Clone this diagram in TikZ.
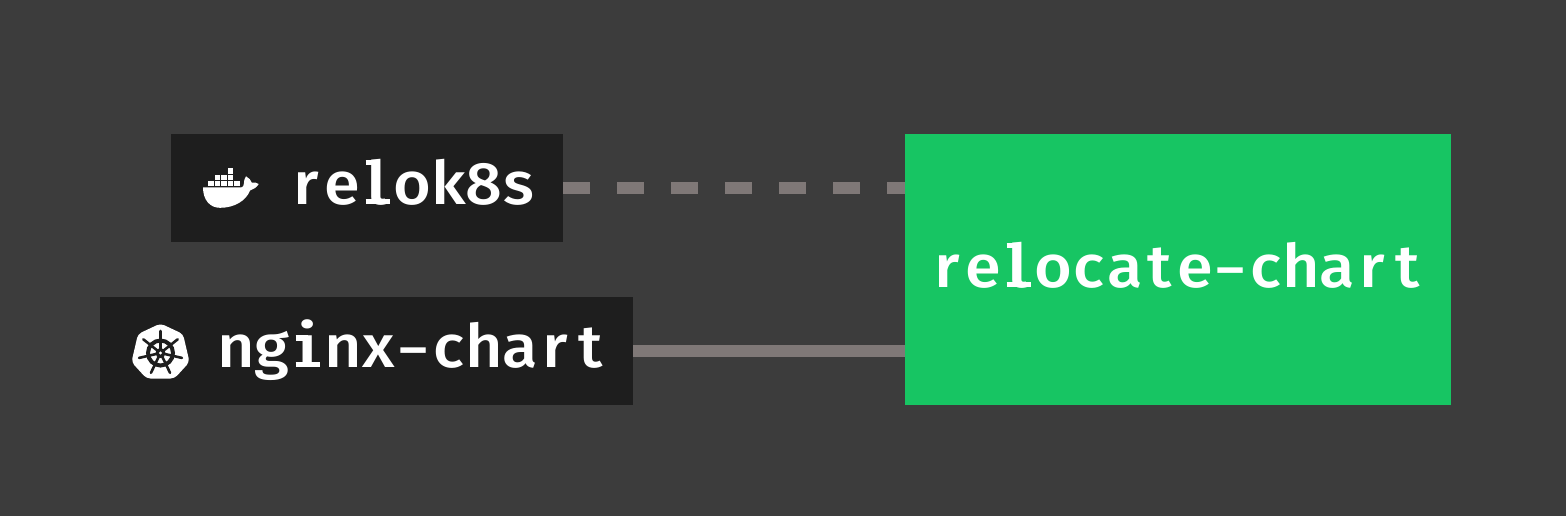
\documentclass[tikz,border=0pt]{standalone}
\usepackage{fontspec}
\newfontfamily\labf{Fira Sans Medium}
\newlength{\cw}\setlength{\cw}{17.7pt}
\newcommand{\mc}[1]{\makebox[\cw][c]{\scalebox{1.08}[1]{#1}}}
\newcommand{\ml}{\makebox[\cw][c]{\makebox[0pt][c]{\scalebox{1.2}[1]{l}}\makebox[0pt][c]{\rule{12pt}{2.7pt}}\makebox[0pt][r]{\raisebox{19.6pt}{\rule{6pt}{2.6pt}}}}}
\newcommand{\mi}{\makebox[\cw][c]{\makebox[0pt][c]{\scalebox{1.2}[1]{i}}\makebox[0pt][c]{\rule{12pt}{2.7pt}}\makebox[0pt][r]{\raisebox{13.2pt}{\rule{6pt}{2.6pt}}}}}
\newcommand{\mh}{\makebox[\cw][c]{\scalebox{1.4}[0.9]{-}}}
\begin{document}
\begin{tikzpicture}[x=0.5pt,y=-0.5pt,
  boxnode/.style={fill=boxdark,inner sep=0,outer sep=0,anchor=north west},
  greennode/.style={fill=chartgreen,inner sep=0,outer sep=0,anchor=north west},
  labeltext/.style={text=white,inner sep=0,outer sep=0,anchor=base west,font=\labf\fontsize{30pt}{31pt}\selectfont},
  wire/.style={draw=wirecol,line width=5.7pt},
  ]
\definecolor{bgc}{HTML}{3C3C3C}
\definecolor{boxdark}{HTML}{1E1E1E}
\definecolor{chartgreen}{HTML}{17C563}
\definecolor{wirecol}{HTML}{7F7877}
\useasboundingbox (0,0) rectangle (1566,516);
\fill[bgc] (0,0) rectangle (1566,516);
\node[boxnode,minimum width=196pt,minimum height=54pt] (relok) at (171,134) {};
\node[boxnode,minimum width=266.5pt,minimum height=54pt] (nginx) at (100,297) {};
\node[greennode,minimum width=273pt,minimum height=135.5pt] (reloc) at (905,134) {};
\draw[wire,dash pattern=on 13.5pt off 13.5pt] (relok.east) -- (relok.east -| reloc.west);
\draw[wire] (nginx.east) -- (nginx.east -| reloc.west);
\node[labeltext] (t1) at (289,204) {\mc r\mc e\ml\mc o\mc k\mc 8\mc s};
\node[labeltext] (t2) at (219,367) {\mc n\mc g\mi\mc n\mc x\mh\mc c\mc h\mc a\mc r\mc t};
\node[labeltext] (t3) at (930,287) {\mc r\mc e\ml\mc o\mc c\mc a\mc t\mc e\mh\mc c\mc h\mc a\mc r\mc t};
% docker whale
\fill[white] (203,187.3) -- (241.5,187.3) .. controls (243,187) and (243.8,186) .. (243.8,184)
  .. controls (243.8,181) and (244.5,178.5) .. (246,176.3) .. controls (249,178) and (251,180) .. (251.7,182.5)
  .. controls (254,182) and (256.5,182.5) .. (258.7,184) .. controls (256.5,187.5) and (253.5,189.5) .. (250,190.5)
  .. controls (246,201) and (234,207.8) .. (220,207.8) .. controls (210,207.8) and (203,200) .. (203,187.3) -- cycle;
\foreach \x in {208.3,214.8,221.3,227.8,234.3}{\fill[white] (\x,180.8) rectangle +(5.6,5.2);}
\foreach \x in {214.8,221.3,227.8}{\fill[white] (\x,174.6) rectangle +(5.6,5.2);}
\fill[white] (227.8,168.4) rectangle +(5.6,5.2);
% kubernetes helm
\fill[white,rounded corners=2pt] (160.5,323.5) -- (183,334) -- (189.5,362) -- (174.5,378.5) -- (146.5,378.5) -- (131.5,362) -- (138,334) -- cycle;
\draw[boxdark,line width=2pt] (160.5,353) circle (12.5);
\foreach \a in {270,321.4,12.9,64.3,115.7,167.1,218.6}{
  \draw[boxdark,line width=1.3pt,line cap=round] (160.5,353) -- ++(\a:22);
}
\fill[boxdark] (160.5,353) circle (5);
\fill[white] (160.5,353) circle (1.7);
\end{tikzpicture}
\end{document}
